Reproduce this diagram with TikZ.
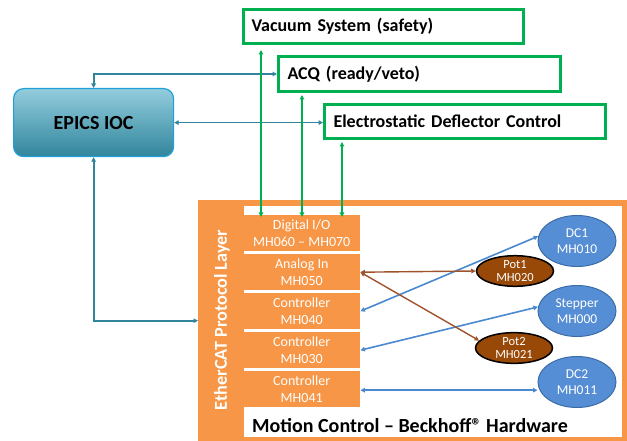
\documentclass[tikz,border=0pt]{standalone}
\usepackage{fontspec}
\setmainfont{Carlito}
\usetikzlibrary{arrows.meta,shapes.geometric}
\definecolor{grn}{HTML}{00B050}
\definecolor{tealc}{HTML}{31849B}
\definecolor{org}{HTML}{F79646}
\definecolor{bfill}{HTML}{558ED5}
\definecolor{bdraw}{HTML}{3C6CA8}
\definecolor{bline}{HTML}{4A89D0}
\definecolor{brn}{HTML}{984807}
\definecolor{brnline}{HTML}{A0522D}
\definecolor{epictop}{HTML}{93CDDD}
\definecolor{epicbot}{HTML}{31859C}
\definecolor{epicbd}{HTML}{1FA0D8}
\tikzset{
  >={Triangle[length=4.5pt,width=4.5pt]},
  gbox/.style={draw=grn, line width=3pt, fill=white, anchor=north west, inner xsep=8pt, inner ysep=0pt,
     align=left, font=\fontsize{18}{21}\selectfont\bfseries},
  modbox/.style={fill=org, anchor=north west, minimum width=117pt, minimum height=36pt, inner sep=0pt,
     text=white, align=center, font=\fontsize{14}{16.5}\selectfont},
  blueell/.style={ellipse, fill=bfill, draw=bdraw, line width=1pt, minimum width=78pt, minimum height=51pt,
     inner sep=0pt, text=white, align=center, font=\fontsize{13.5}{16}\selectfont},
  brnell/.style={ellipse, fill=brn, draw=black, line width=1.5pt, minimum width=77pt, minimum height=30pt,
     inner sep=0pt, text=white, align=center, font=\fontsize{12.5}{13.5}\selectfont},
  tealarrow/.style={draw=tealc, line width=1.8pt, <->},
  garrow/.style={draw=grn, line width=1.8pt, <->},
  barrow/.style={draw=bline, line width=1.6pt, <->},
  brarrow/.style={draw=brnline, line width=1.4pt, <->},
}
\begin{document}
\begin{tikzpicture}[x=1pt,y=-1pt]
\useasboundingbox (0,0) rectangle (627,441);
\fill[white] (0,0) rectangle (627,441);

% Motion control frame
\node[fill=org, anchor=north west, minimum width=429pt, minimum height=241pt, inner sep=0pt] (mc) at (198,200) {};
\fill[white] (244,206) rectangle (622,437);

% modules
\node[modbox] (dio) at (243,215) {Digital I/O\\MH060 – MH070};
\node[modbox] (ain) at (243,254) {Analog In\\MH050};
\node[modbox] (c040) at (243,293) {Controller\\MH040};
\node[modbox] (c030) at (243,332) {Controller\\MH030};
\node[modbox] (c041) at (243,371) {Controller\\MH041};

\node[rotate=90, text=white, font=\fontsize{18.2}{20}\selectfont\bfseries] (eth) at (222,320) {EtherCAT Protocol Layer};
\node[anchor=base west, inner sep=0pt, font=\fontsize{20}{22}\selectfont\bfseries] (mctext) at (252,432) {Motion Control – Beckhoff® Hardware};

% ellipses
\node[blueell] (dc1) at (577,241) {DC1\\MH010};
\node[blueell] (stp) at (577,311) {Stepper\\MH000};
\node[blueell] (dc2) at (577,382) {DC2\\MH011};
\node[brnell] (pot1) at (515,271) {Pot1\\MH020};
\node[brnell] (pot2) at (514,348) {Pot2\\MH021};

% green boxes
\node[gbox, text width=264pt, minimum height=34pt] (vac) at (242,8) {Vacuum System (safety)};
\node[gbox, text width=264pt, minimum height=35pt, inner xsep=9pt] (acq) at (277,55) {ACQ (ready/veto)};
\node[gbox, text width=263pt, minimum height=34pt, inner xsep=9pt] (eds) at (323,103) {Electrostatic Deflector Control};

% EPICS IOC
\node[anchor=north west, rounded corners=10pt, draw=epicbd, line width=1.2pt, top color=epictop, bottom color=epicbot,
  minimum width=160pt, minimum height=68pt, font=\fontsize{20}{23}\selectfont\bfseries] (epics) at (13,88) {EPICS IOC};

% teal connectors
\draw[tealarrow] (epics.north) |- (acq.west);
\draw[tealarrow] (epics.east) -- (eds.west |- epics.east);
\draw[tealarrow] (epics.south) |- (mc.west);

% green connectors
\draw[garrow] ([xshift=18pt,yshift=-2pt]dio.north west) -- ([xshift=18pt,yshift=-5pt]dio.north west |- vac.south);
\draw[garrow] ([xshift=59pt,yshift=-2pt]dio.north west) -- ([xshift=59pt,yshift=-2pt]dio.north west |- acq.south);
\draw[garrow] ([xshift=99pt,yshift=-2pt]dio.north west) -- ([xshift=99pt,yshift=-2pt]dio.north west |- eds.south);

% blue connectors
\draw[barrow] (c040.east) -- (dc1.173);
\draw[barrow] (c030.east) -- (stp.174);
\draw[barrow] ([yshift=-1pt]c041.east) -- ([yshift=-1pt]c041.east -| dc2.west);

% brown connectors
\draw[brarrow] (ain.east) -- (pot1.west);
\draw[brarrow] (ain.east) -- (pot2.168);
\end{tikzpicture}
\end{document}
